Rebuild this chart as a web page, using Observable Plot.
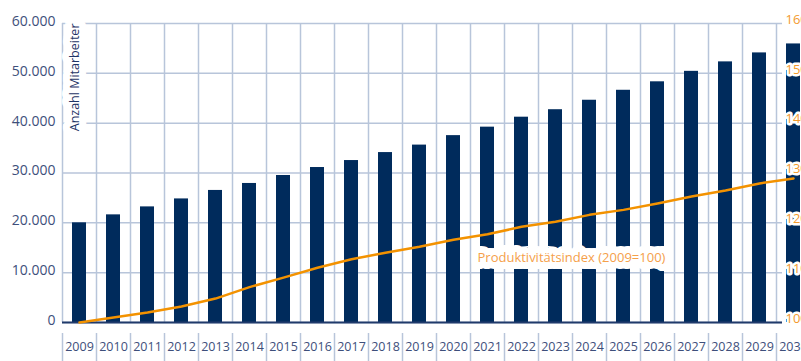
<!DOCTYPE html>
<html><head><meta charset="utf-8">
<script src="https://cdn.jsdelivr.net/npm/d3@7"></script>
<script src="https://cdn.jsdelivr.net/npm/@observablehq/plot@0.6"></script>
<style>html,body{margin:0;padding:0;background:#fff;overflow:hidden}</style>
</head><body><div id="chart"></div>
<script>
const years = [2009,2010,2011,2012,2013,2014,2015,2016,2017,2018,2019,2020,2021,2022,2023,2024,2025,2026,2027,2028,2029,2030];
const employees = [20000,21600,23200,24800,26500,27900,29500,31100,32500,34100,35600,37500,39200,41200,42700,44600,46600,48300,50400,52300,54100,55900];
const productivity = [100,101.0,102.0,103.2,104.8,107.1,109.0,111.0,112.7,114.0,115.2,116.6,117.7,119.2,120.2,121.6,122.6,123.9,125.3,126.5,127.9,128.9];
const yTicks = [0,10000,20000,30000,40000,50000,60000];
const indexTicks = [100,110,120,130,140,150,160];
const yLabel = "Anzahl Mitarbeiter";
const lineLabel = "Produktivitätsindex (2009=100)";
const lineLabelYear = 2021;
const lineLabelValue = 13000;

const rows = years.map((year, i) => ({year, emp: employees[i], idx: productivity[i]}));
const idxToY = v => (v - 100) * 1000;

const grid = "#b8c5da";
const navy = "#002b5c";
const orange = "#f39200";
const slate = "#3e4f7b";
const deFmt = d => d3.format(",")(d).replace(/,/g, ".");

const plot = Plot.plot({
  width: 801, height: 361,
  marginLeft: 62, marginRight: 19, marginTop: 23, marginBottom: 39,
  style: {fontFamily: "'Open Sans', sans-serif", background: "#fff", overflow: "visible"},
  x: {type: "band", domain: years, range: [62, 810], paddingInner: 0.588, paddingOuter: 0.294, axis: null},
  y: {domain: [0, 60000], axis: null},
  marks: [
    Plot.ruleY(yTicks, {stroke: grid, strokeWidth: 1.5}),
    Plot.ruleX(years, {x: d => d, dx: -17, y1: 0, y2: 60000, stroke: grid, strokeWidth: 1.5}),
    Plot.barY(rows, {x: "year", y: "emp", fill: navy}),
    Plot.ruleY([0], {stroke: "#203a6b", strokeWidth: 2}),
    Plot.line(rows, {x: "year", y: d => idxToY(d.idx), stroke: orange, strokeWidth: 2.5}),
    Plot.text([lineLabel], {x: () => lineLabelYear, y: () => lineLabelValue, text: d => d, textAnchor: "start", dx: -10, fontSize: 13, fill: "#f5a04a", stroke: "white", strokeWidth: 14, paintOrder: "stroke"}),
    Plot.axisY({anchor: "left", ticks: yTicks, tickSize: 0, tickPadding: 7, tickFormat: deFmt, fontSize: 14, fill: slate, dy: -2, label: null}),
    Plot.text([yLabel], {frameAnchor: "top-left", text: d => d, rotate: -90, textAnchor: "end", dx: 8, fontSize: 12.5, fill: "#1f3466", stroke: "white", strokeWidth: 14, paintOrder: "stroke"}),
    Plot.text(indexTicks, {y: d => idxToY(d), text: d => String(d), frameAnchor: "right", textAnchor: "start", dx: 3, dy: -4, fontSize: 13, fill: "#f39a2e", stroke: "white", strokeWidth: 5, paintOrder: "stroke"}),
    Plot.axisX({ticks: years, tickSize: 0, tickPadding: 20, tickFormat: d => String(d), fontSize: 12.5, fill: slate, label: null}),
    Plot.ruleX(years, {x: d => d, dx: -17, insetTop: 310, insetBottom: -39, stroke: grid, strokeWidth: 1.5})
  ]
});
document.getElementById("chart").append(plot);
</script>
</body></html>
